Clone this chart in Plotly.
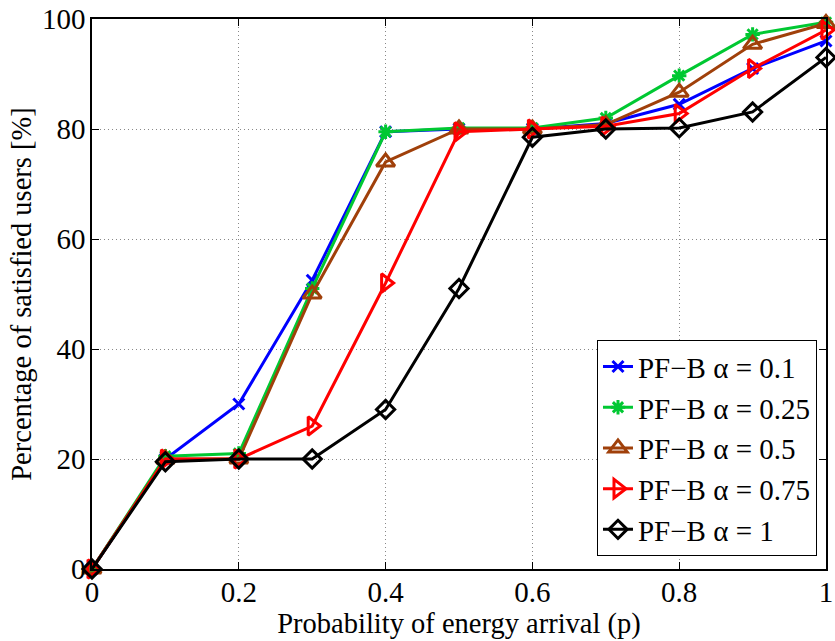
import plotly.graph_objects as go

p = [0, 0.1, 0.2, 0.3, 0.4, 0.5, 0.6, 0.7, 0.8, 0.9, 1.0]
a01 = [0, 20, 30, 52.5, 79.5, 80, 80, 81, 84.5, 91, 96]
a025 = [0, 20.5, 21, 51, 79.5, 80.2, 80.2, 82, 89.7, 97.2, 99.4]
a05 = [0, 20, 20, 50, 74, 80, 80, 80.8, 86.7, 95.4, 99.2]
a075 = [0, 20, 20, 26, 52, 79.5, 80, 80.5, 82.8, 91, 98]
a1 = [0, 19.5, 20, 20, 29, 51, 78.5, 80, 80.2, 83.1, 93]

names = ["PF\u2212B \u03b1 = 0.1", "PF\u2212B \u03b1 = 0.25", "PF\u2212B \u03b1 = 0.5",
         "PF\u2212B \u03b1 = 0.75", "PF\u2212B \u03b1 = 1"]
series = [a01, a025, a05, a075, a1]
colors = ["#0000ff", "#00c832", "#a0400a", "#ff0000", "#000000"]
symbols = ["x-thin-open", "asterisk-open", "triangle-up-open", "triangle-right-open", "diamond-open"]
sizes = [11, 12, 16, 16, 14]

fig = go.Figure()
for n, s, c, m, sz in zip(names, series, colors, symbols, sizes):
    fig.add_trace(go.Scatter(
        x=p, y=s, name=n, mode="lines+markers",
        line=dict(color=c, width=3),
        marker=dict(symbol=m, size=sz, color=c, line=dict(color=c, width=3)),
        cliponaxis=False,
    ))

font = "Liberation Serif"
axis_common = dict(
    showline=True, linecolor="black", linewidth=1.5, mirror="ticks",
    ticks="inside", ticklen=7, tickcolor="black", tickwidth=1,
    showgrid=True, gridcolor="#888888", griddash="1px,3px", gridwidth=1,
    zeroline=False, tickfont=dict(family=font, size=29, color="black"),
    ticklabeloverflow="allow",
)

fig.update_layout(
    width=835, height=641,
    margin=dict(l=92, r=2, t=19, b=72),
    paper_bgcolor="white", plot_bgcolor="white",
    font=dict(family=font, color="black"),
    xaxis=dict(range=[0, 1], tickvals=[0, 0.2, 0.4, 0.6, 0.8, 1],
               ticktext=["0", "0.2", "0.4", "0.6", "0.8", "1"],
               ticklabelstandoff=-4,
               title=dict(text="Probability of energy arrival (p)", font=dict(size=28.5, family=font), standoff=0),
               **axis_common),
    yaxis=dict(range=[0, 100], tickvals=[0, 20, 40, 60, 80, 100],
               ticklabelstandoff=-1,
               title=dict(text="Percentage of satisfied users [%]", font=dict(size=28.5, family=font), standoff=2),
               **axis_common),
    legend=dict(x=0.688, y=0.416, xanchor="left", yanchor="top",
                bordercolor="black", borderwidth=1, bgcolor="white",
                font=dict(family=font, size=29, color="black"),
                itemwidth=30, tracegroupgap=0),
    showlegend=True,
)

fig.write_html("out.html")
